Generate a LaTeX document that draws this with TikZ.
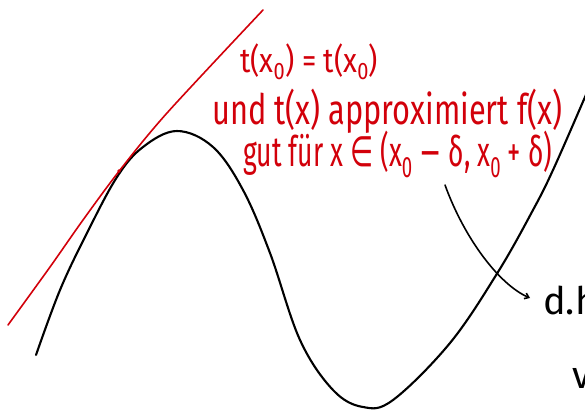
\documentclass[tikz,border=0pt]{standalone}
\usepackage{fontspec}
\setmainfont{Fira Sans}
\newfontfamily\symf{DejaVu Sans}
\usepackage{graphicx}
\usetikzlibrary{arrows.meta}
\definecolor{pen}{RGB}{210,0,10}
\tikzset{
  fcurve/.style={black, line width=2.1pt, line cap=round, line join=round},
  tangent/.style={pen, line width=1.6pt, line cap=round, line join=round},
  note/.style={pen, anchor=base west, inner sep=0pt},
  blacknote/.style={black, anchor=base west, inner sep=0pt, font=\fontsize{38}{42}\selectfont},
  pointer/.style={black, line width=1.6pt, line cap=round, -{Straight Barb[length=4pt,width=6pt]}}
}
\begin{document}
\begin{tikzpicture}[x=1pt,y=-1pt]
\useasboundingbox (0,0) rectangle (585,410);
\clip (0,0) rectangle (585,410);
% function f
\draw[fcurve] plot[smooth, tension=0.6] coordinates {(36,355) (60,290) (87,233) (117,177) (143,147) (177,131) (213,147) (243,190) (270,253) (300,340) (333,390) (363,407) (393,400) (450,343) (498,272) (533,210) (553,170) (585,97) (592,80)};
% tangent t
\draw[tangent] plot[smooth, tension=0.5] coordinates {(8,325) (50,267) (83,220) (120,170) (167,113) (263,10)};
\fill[pen] (119,171) circle (1.8pt);
% notes
\node[note, font=\fontsize{34}{38}\selectfont] (l1) at (240,72) {\resizebox{138pt}{\height}{t(x\textsubscript{0}) = t(x\textsubscript{0})}};
\node[note, font=\fontsize{42}{46}\selectfont] (l2) at (212,124) {\resizebox{350pt}{\height}{und t(x) approximiert f(x)}};
\node[note, font=\fontsize{42}{46}\selectfont] (l3) at (243,166) {\resizebox{309pt}{\height}{gut für x {\symf ∈} (x\textsubscript{0} {\symf −} δ, x\textsubscript{0} + δ)}};
\node[blacknote] (dh) at (543,314) {d.h};
\node[blacknote] (v) at (572,388) {v};
\coordinate (s) at (445,185);
\coordinate (e) at (530,298);
\draw[pointer] (s) .. controls (465,240) and (500,285) .. (e);
\end{tikzpicture}
\end{document}
